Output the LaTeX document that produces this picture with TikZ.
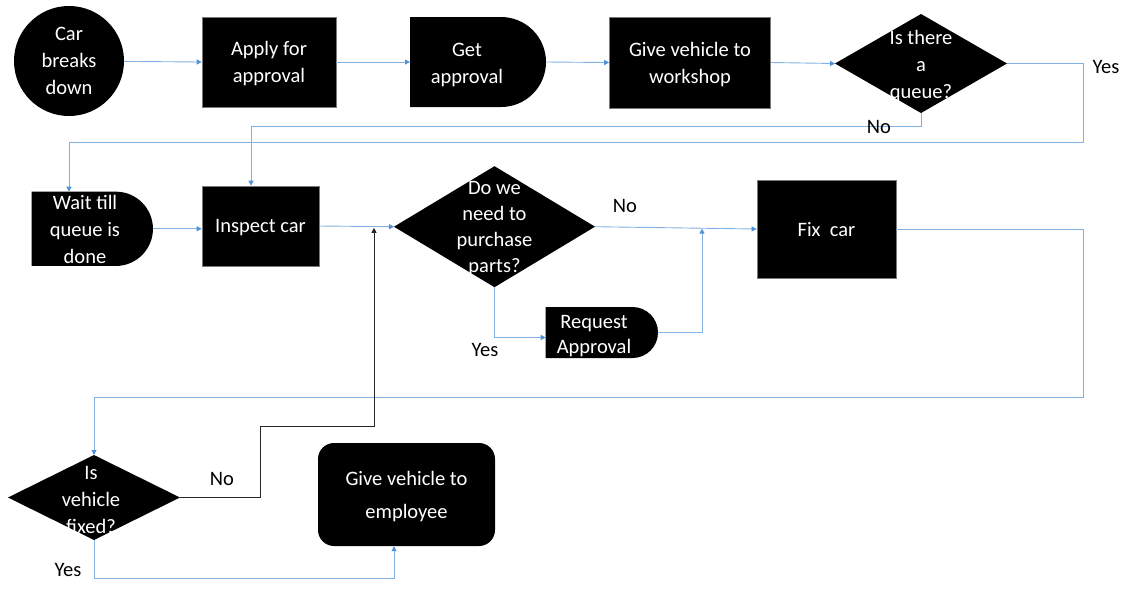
\documentclass[tikz,border=0pt]{standalone}
\usepackage{fontspec}
\setmainfont{Carlito}
\usetikzlibrary{shapes.geometric,arrows.meta,calc}
\definecolor{lineblue}{RGB}{130,178,228}
\definecolor{tipblue}{RGB}{80,145,215}
\definecolor{edgegray}{RGB}{120,120,120}
\begin{document}
\begin{tikzpicture}[x=1pt,y=-1pt,
  txt/.style={text=white, font=\fontsize{20.5}{27}\selectfont, align=center, inner sep=0pt, text depth=0pt},
  boxnode/.style={rectangle, fill=black, draw=edgegray, line width=0.6pt, txt},
  holder/.style={rectangle, draw=none, inner sep=0pt, outer sep=0pt},
  dia/.style={diamond, fill=black, inner sep=0pt, outer sep=0pt},
  arr/.style={draw=lineblue, line width=0.9pt, -{Triangle[length=5pt,width=5pt,color=tipblue]}},
  blk/.style={draw=black!85, line width=0.8pt, -{Triangle[length=5pt,width=5pt]}},
  lbl/.style={text=black, font=\fontsize{20.5}{26.5}\selectfont, inner sep=0pt}]
\useasboundingbox (0,0) rectangle (1127,590);

% ---- top row ----
\node[circle, fill=black, minimum size=110pt, txt] (car) at (69,61) {Car\\breaks\\down};
\node[boxnode, minimum width=134pt, minimum height=90pt] (apply) at (269,62) {Apply for\\approval};
\node[holder, minimum width=136pt, minimum height=90pt] (get) at (478,62) {};
\fill (get.south west) -- (get.north west) -- ([xshift=-45pt]get.north east)
  arc[start angle=90,end angle=-90,radius=45pt] -- cycle;
\node[txt] (getT) at (467,63.5) {Get\\approval};
\node[boxnode, minimum width=161pt, minimum height=91pt] (work) at (690,62.5) {Give vehicle to\\workshop};
\node[dia, minimum width=172pt, minimum height=99pt] (q1) at (921,63.5) {};
\node[txt] (q1T) at (921,64) {Is there\\a\\queue?};

% ---- middle row ----
\node[holder, minimum width=121.3pt, minimum height=74.3pt] (wait) at (92.3,228.8) {};
\fill (wait.south west) -- (wait.north west) -- ([xshift=-37.15pt]wait.north east)
  arc[start angle=90,end angle=-90,radius=37.15pt] -- cycle;
\node[txt] (waitT) at (85,229.5) {Wait till\\queue is\\done};
\node[boxnode, minimum width=117pt, minimum height=80pt] (insp) at (260.5,226) {Inspect car};
\node[dia, minimum width=201pt, minimum height=121pt] (d2) at (494.5,226.7) {};
\node[txt, font=\fontsize{20.5}{25.8}\selectfont] (d2T) at (494.5,227) {Do we\\need to\\purchase\\parts?};
\node[boxnode, minimum width=139pt, minimum height=98pt] (fix) at (826.5,229) {Fix~ car};
\node[holder, minimum width=112.3pt, minimum height=51pt] (req) at (601.85,332.5) {};
\fill (req.south west) -- (req.north west) -- ([xshift=-25.5pt]req.north east)
  arc[start angle=90,end angle=-90,radius=25.5pt] -- cycle;
\node[txt, font=\fontsize{20.5}{25}\selectfont] (reqT) at (594,334) {Request\\Approval};

% ---- bottom row ----
\node[dia, minimum width=172pt, minimum height=85pt] (d3) at (94,497.5) {};
\node[txt] (d3T) at (91,499.5) {Is\\vehicle\\fixed?};
\node[rectangle, rounded corners=16pt, fill=black, minimum width=177pt, minimum height=103pt,
  txt, font=\fontsize{20.5}{33}\selectfont] (emp) at (406.5,494.5) {Give vehicle to\\employee};

% ---- helper coordinates ----
\coordinate (c2) at (1083,142.7);
\coordinate (j1) at (702,228.6);
\coordinate (c3) at (1083,397.5);
\coordinate (c4) at (374,426.7);
\coordinate (j2) at (374,227.8);

% ---- connectors ----
\draw[arr] (car) -- (apply.west);
\draw[arr] (apply.east) -- (get.west);
\draw[arr] (get.east) -- (work.west);
\draw[arr] (work.east) -- (q1.west);
\draw[arr] (q1.south) -- ++(0,13.2) -| ([xshift=-9.5pt]insp.north);
\draw[arr] (q1.east) -| (c2) -| ([xshift=-23.3pt]wait.north);
\draw[arr] (wait.east) -- (wait.east -| insp.west);
\draw[arr] (insp.east) -- (d2.west);
\draw[arr] (d2.east) -- (fix.west);
\draw[arr] (d2.south) |- ([yshift=-5pt]req.west);
\draw[arr] (req.east) -| (j1);
\draw[arr] (fix.east) -| (c3) -| (d3.north);
\draw[blk] (d3.east) -- ++(80,0) |- (c4) -- (j2);
\draw[arr] (d3.south) -- ++(0,38) -| ([xshift=-12.5pt]emp.south);

% ---- labels ----
\node[lbl] (yes1) at (1106,67) {Yes};
\node[lbl] (no1) at (879,126.5) {No};
\node[lbl] (no2) at (625,206) {No};
\node[lbl] (yes2) at (485,350) {Yes};
\node[lbl] (no3) at (222,479) {No};
\node[lbl] (yes3) at (68,570) {Yes};
\end{tikzpicture}
\end{document}
